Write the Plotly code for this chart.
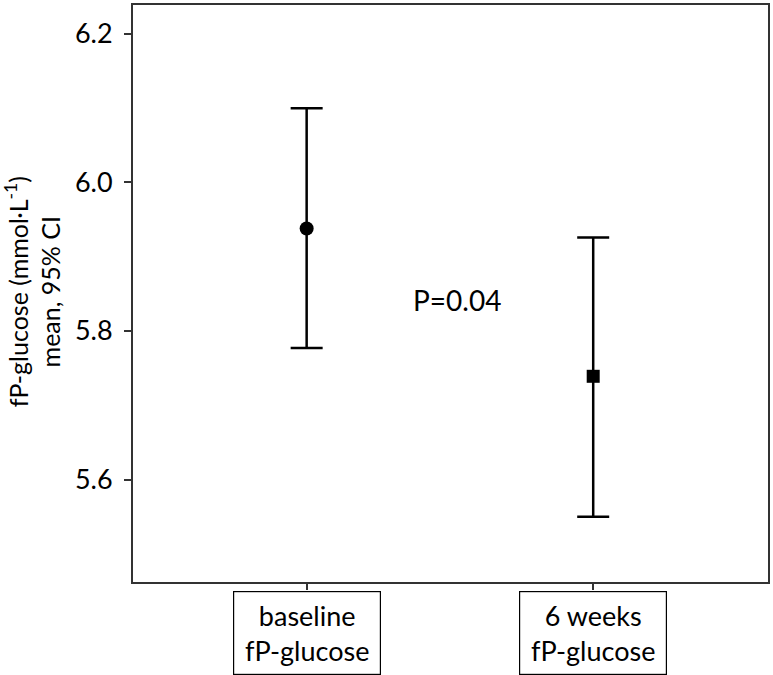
import plotly.graph_objects as go

categories = ["baseline<br>fP-glucose", "6 weeks<br>fP-glucose"]
means = [5.938, 5.739]
ci_upper = [6.100, 5.926]
ci_lower = [5.777, 5.550]
symbols = ["circle", "square"]
yticks = [5.6, 5.8, 6.0, 6.2]
p_text = "P=0.04"

FONT = "Lato, Open Sans, sans-serif"
xpos = list(range(len(categories)))

fig = go.Figure()
for i in xpos:
    fig.add_trace(go.Scatter(
        x=[i], y=[means[i]], mode="markers",
        marker=dict(symbol=symbols[i], size=14 if symbols[i] == "circle" else 13, color="black"),
        error_y=dict(type="data", symmetric=False,
                     array=[ci_upper[i] - means[i]], arrayminus=[means[i] - ci_lower[i]],
                     color="black", thickness=2.5, width=16),
        showlegend=False, hoverinfo="skip"))

for i, c in enumerate(categories):
    fig.add_annotation(x=i, xref="x", y=-0.016, yref="paper", yanchor="top",
                       text=c, showarrow=False, font=dict(family=FONT, size=27, color="black"),
                       bordercolor="black", borderwidth=1.2, width=144, height=80,
                       bgcolor="white", align="center")

fig.add_annotation(x=0.523, y=5.842, xref="x", yref="y", text=p_text, showarrow=False,
                   font=dict(family=FONT, size=28, color="black"))

fig.add_annotation(x=-0.157, y=0.5026, xref="paper", yref="paper",
                   text="fP-glucose (mmol·L<sup>-1</sup>)<br>mean, 95% CI",
                   textangle=-90, showarrow=False, xanchor="center", yanchor="middle",
                   font=dict(family=FONT, size=25, color="black"))

fig.update_layout(
    width=773, height=675,
    margin=dict(l=133, r=4, t=3, b=93),
    plot_bgcolor="white", paper_bgcolor="white",
    xaxis=dict(range=[-0.606, 1.61], tickvals=xpos, showticklabels=False,
               showline=True, mirror=True, linecolor="#333333", linewidth=2,
               ticks="outside", ticklen=6, tickcolor="#333333", tickwidth=1.5,
               showgrid=False, zeroline=False),
    yaxis=dict(range=[5.462, 6.239], tickvals=yticks, ticktext=[f"{v:.1f}" for v in yticks],
               showline=True, mirror=True, linecolor="#333333", linewidth=2,
               ticks="outside", ticklen=7, tickcolor="#333333", tickwidth=1.5,
               ticklabelstandoff=6,
               tickfont=dict(family=FONT, size=27, color="black"),
               showgrid=False, zeroline=False),
)

fig.write_html("out.html", config={"displayModeBar": False},
               post_script="document.body.style.margin='0';document.body.style.overflow='hidden';")
